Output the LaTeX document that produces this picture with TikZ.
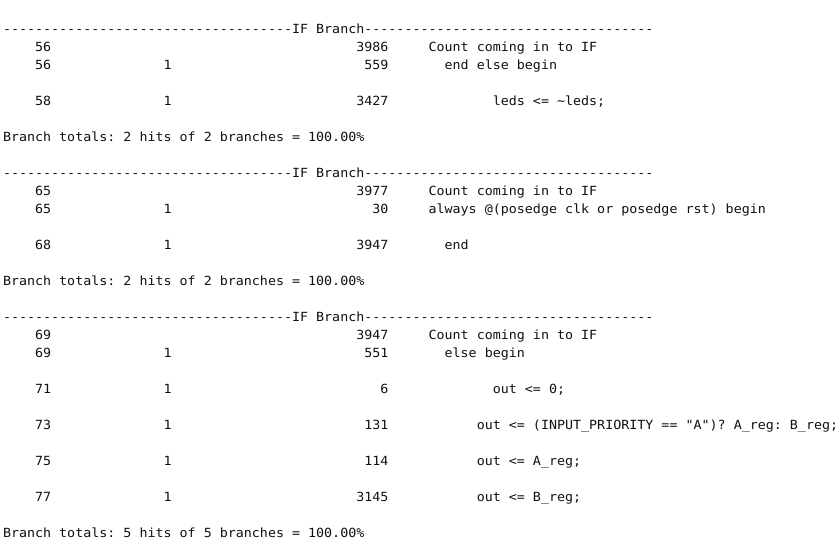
\documentclass[tikz,border=0pt]{standalone}
\usepackage{fontspec}
\setmonofont{DejaVu Sans Mono}[FakeStretch=1.0587]
\definecolor{txt}{HTML}{111111}
\tikzset{tok/.style={anchor=base west,inner sep=0pt,outer sep=0pt,text=txt,
  font=\ttfamily\fontsize{12.6}{15}\selectfont}}
\newcommand\tok[4]{\node[tok] (#1) at ({3+8.03*#2},{33+18*#3}) {#4};}
\newcommand\dashrow{------------------------------------IF Branch------------------------------------}
\begin{document}
\begin{tikzpicture}[x=1pt,y=-1pt]
\path[use as bounding box,fill=white] (0,0) rectangle (840,549);
% block 1
\tok{hA}{0}{0}{\dashrow}
\tok{a1l}{4}{1}{56}
\tok{a1c}{44}{1}{3986}
\tok{a1t}{53}{1}{Count coming in to IF}
\tok{a2l}{4}{2}{56}
\tok{a2b}{20}{2}{1}
\tok{a2c}{45}{2}{559}
\tok{a2t}{55}{2}{end else begin}
\tok{a3l}{4}{4}{58}
\tok{a3b}{20}{4}{1}
\tok{a3c}{44}{4}{3427}
\tok{a3t}{61}{4}{leds <= \textasciitilde leds;}
\tok{aT}{0}{6}{Branch totals: 2 hits of 2 branches = 100.00\%}
% block 2
\tok{hB}{0}{8}{\dashrow}
\tok{b1l}{4}{9}{65}
\tok{b1c}{44}{9}{3977}
\tok{b1t}{53}{9}{Count coming in to IF}
\tok{b2l}{4}{10}{65}
\tok{b2b}{20}{10}{1}
\tok{b2c}{46}{10}{30}
\tok{b2t}{53}{10}{always @(posedge clk or posedge rst) begin}
\tok{b3l}{4}{12}{68}
\tok{b3b}{20}{12}{1}
\tok{b3c}{44}{12}{3947}
\tok{b3t}{55}{12}{end}
\tok{bT}{0}{14}{Branch totals: 2 hits of 2 branches = 100.00\%}
% block 3
\tok{hC}{0}{16}{\dashrow}
\tok{c1l}{4}{17}{69}
\tok{c1c}{44}{17}{3947}
\tok{c1t}{53}{17}{Count coming in to IF}
\tok{c2l}{4}{18}{69}
\tok{c2b}{20}{18}{1}
\tok{c2c}{45}{18}{551}
\tok{c2t}{55}{18}{else begin}
\tok{c3l}{4}{20}{71}
\tok{c3b}{20}{20}{1}
\tok{c3c}{47}{20}{6}
\tok{c3t}{61}{20}{out <= 0;}
\tok{c4l}{4}{22}{73}
\tok{c4b}{20}{22}{1}
\tok{c4c}{45}{22}{131}
\tok{c4t}{59}{22}{out <= (INPUT\_PRIORITY == "A")? A\_reg: B\_reg;}
\tok{c5l}{4}{24}{75}
\tok{c5b}{20}{24}{1}
\tok{c5c}{45}{24}{114}
\tok{c5t}{59}{24}{out <= A\_reg;}
\tok{c6l}{4}{26}{77}
\tok{c6b}{20}{26}{1}
\tok{c6c}{44}{26}{3145}
\tok{c6t}{59}{26}{out <= B\_reg;}
\tok{cT}{0}{28}{Branch totals: 5 hits of 5 branches = 100.00\%}
\end{tikzpicture}
\end{document}
